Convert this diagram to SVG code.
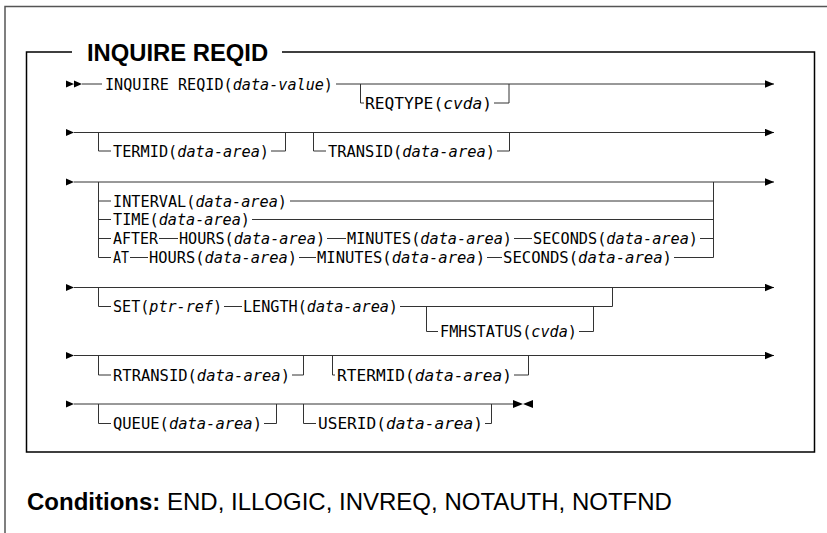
<svg xmlns="http://www.w3.org/2000/svg" width="827" height="533" viewBox="0 0 827 533">
<style>
.frame{fill:none;stroke:#555;stroke-width:1.5}
.box{fill:none;stroke:#000;stroke-width:1.5}
.ln{fill:none;stroke:#333;stroke-width:1}
.t{font-family:"DejaVu Sans Mono","Liberation Mono",monospace;font-size:15px;fill:#000}
.i{font-style:italic}
.title{font-family:"Liberation Sans",Arial,sans-serif;font-weight:bold;font-size:23.8px;fill:#000}
.cond{font-family:"Liberation Sans",Arial,sans-serif;font-size:24px;fill:#000}
.ah{fill:#000}
</style>
<defs>
<marker id="arr" markerWidth="9" markerHeight="8" refX="9" refY="4" orient="auto" markerUnits="userSpaceOnUse">
<path d="M0,0.3 L9,4 L0,7.7 Z" fill="#000"/>
</marker>
</defs>
<rect width="827" height="533" fill="#fff"/>
<path class="frame" d="M5,533 V6.5 H827"/>
<path class="box" d="M72,52 H26.5 V452 H814.5 V52 H282"/>
<text class="title" x="87" y="61">INQUIRE REQID</text>

<g id="connectors">
<!-- row 1 -->
<path class="ah" d="M66,80.5 L74,84 L66,87.5 Z M74,80.5 L82,84 L74,87.5 Z"/>
<path class="ln" d="M82,84 H102"/>
<path class="ln" d="M336,84 H774" marker-end="url(#arr)"/>
<path class="ln" d="M360.5,84 V103 H364"/>
<path class="ln" d="M494,103 H509 V84"/>
<!-- row 2 -->
<path class="ah" d="M66,129 L74,132.5 L66,136 Z"/>
<path class="ln" d="M74,132.5 H774" marker-end="url(#arr)"/>
<path class="ln" d="M98.5,132.5 V151 H111"/>
<path class="ln" d="M271,151 H285.5 V132.5"/>
<path class="ln" d="M313.5,132.5 V151 H326"/>
<path class="ln" d="M497,151 H509.5 V132.5"/>
<!-- row 3 -->
<path class="ah" d="M66,178.5 L74,182 L66,185.5 Z"/>
<path class="ln" d="M74,182 H774" marker-end="url(#arr)"/>
<path class="ln" d="M98.5,182 V257.5 H111"/>
<path class="ln" d="M98.5,201 H111 M98.5,219.5 H111 M98.5,238.5 H111"/>
<path class="ln" d="M713.5,182 V257.5"/>
<path class="ln" d="M290,201 H713.5"/>
<path class="ln" d="M252,219.5 H713.5"/>
<path class="ln" d="M159,238.5 H178 M327,238.5 H346 M514,238.5 H532 M700,238.5 H713.5"/>
<path class="ln" d="M130,257.5 H148 M299,257.5 H316 M487,257.5 H502 M674,257.5 H713.5"/>
<!-- row 4 -->
<path class="ah" d="M66,284 L74,287.5 L66,291 Z"/>
<path class="ln" d="M74,287.5 H774" marker-end="url(#arr)"/>
<path class="ln" d="M98.5,287.5 V306.5 H111"/>
<path class="ln" d="M224,306.5 H242"/>
<path class="ln" d="M400,306.5 H612.5 V287.5"/>
<path class="ln" d="M426.5,306.5 V331.5 H438"/>
<path class="ln" d="M579,331.5 H593.5 V306.5"/>
<!-- row 5 -->
<path class="ah" d="M66,352 L74,355.5 L66,359 Z"/>
<path class="ln" d="M74,355.5 H774" marker-end="url(#arr)"/>
<path class="ln" d="M98.5,355.5 V375 H111"/>
<path class="ln" d="M292,375 H303.5 V355.5"/>
<path class="ln" d="M332.5,355.5 V375 H335"/>
<path class="ln" d="M514,375 H528.5 V355.5"/>
<!-- row 6 -->
<path class="ah" d="M66,400.5 L74,404 L66,407.5 Z"/>
<path class="ln" d="M74,404 H513"/>
<path class="ah" d="M513,400 L523,404 L513,408 Z M533,400 L523,404 L533,408 Z"/>
<path class="ln" d="M98.5,404 V423.5 H111"/>
<path class="ln" d="M264,423.5 H276.5 V404"/>
<path class="ln" d="M303.5,404 V423.5 H316"/>
<path class="ln" d="M485,423.5 H491.5 V404"/>
</g>

<g id="n-inquire"><text class="t" x="105" y="89.5" textLength="228" lengthAdjust="spacingAndGlyphs">INQUIRE REQID(<tspan class="i">data-value</tspan>)</text></g>
<g id="n-reqtype"><text class="t" x="365" y="108.5" textLength="127" lengthAdjust="spacingAndGlyphs">REQTYPE(<tspan class="i">cvda</tspan>)</text></g>
<g id="n-termid"><text class="t" x="113" y="156.5" textLength="156" lengthAdjust="spacingAndGlyphs">TERMID(<tspan class="i">data-area</tspan>)</text></g>
<g id="n-transid"><text class="t" x="328" y="156.5" textLength="167" lengthAdjust="spacingAndGlyphs">TRANSID(<tspan class="i">data-area</tspan>)</text></g>
<g id="n-interval"><text class="t" x="113" y="206.5" textLength="174" lengthAdjust="spacingAndGlyphs">INTERVAL(<tspan class="i">data-area</tspan>)</text></g>
<g id="n-time"><text class="t" x="113" y="225" textLength="137" lengthAdjust="spacingAndGlyphs">TIME(<tspan class="i">data-area</tspan>)</text></g>
<g id="n-after">
<text class="t" x="113" y="244" textLength="45" lengthAdjust="spacingAndGlyphs">AFTER</text>
<text class="t" x="179" y="244" textLength="146" lengthAdjust="spacingAndGlyphs">HOURS(<tspan class="i">data-area</tspan>)</text>
<text class="t" x="347" y="244" textLength="165" lengthAdjust="spacingAndGlyphs">MINUTES(<tspan class="i">data-area</tspan>)</text>
<text class="t" x="533" y="244" textLength="165" lengthAdjust="spacingAndGlyphs">SECONDS(<tspan class="i">data-area</tspan>)</text>
</g>
<g id="n-at">
<text class="t" x="113" y="263" textLength="16" lengthAdjust="spacingAndGlyphs">AT</text>
<text class="t" x="149" y="263" textLength="148" lengthAdjust="spacingAndGlyphs">HOURS(<tspan class="i">data-area</tspan>)</text>
<text class="t" x="317" y="263" textLength="168" lengthAdjust="spacingAndGlyphs">MINUTES(<tspan class="i">data-area</tspan>)</text>
<text class="t" x="503" y="263" textLength="169" lengthAdjust="spacingAndGlyphs">SECONDS(<tspan class="i">data-area</tspan>)</text>
</g>
<g id="n-set"><text class="t" x="113" y="312" textLength="109" lengthAdjust="spacingAndGlyphs">SET(<tspan class="i">ptr-ref</tspan>)</text></g>
<g id="n-length"><text class="t" x="243" y="312" textLength="155" lengthAdjust="spacingAndGlyphs">LENGTH(<tspan class="i">data-area</tspan>)</text></g>
<g id="n-fmhstatus"><text class="t" x="440" y="337" textLength="137" lengthAdjust="spacingAndGlyphs">FMHSTATUS(<tspan class="i">cvda</tspan>)</text></g>
<g id="n-rtransid"><text class="t" x="113" y="380.5" textLength="177" lengthAdjust="spacingAndGlyphs">RTRANSID(<tspan class="i">data-area</tspan>)</text></g>
<g id="n-rtermid"><text class="t" x="337" y="380.5" textLength="175" lengthAdjust="spacingAndGlyphs">RTERMID(<tspan class="i">data-area</tspan>)</text></g>
<g id="n-queue"><text class="t" x="113" y="429" textLength="149" lengthAdjust="spacingAndGlyphs">QUEUE(<tspan class="i">data-area</tspan>)</text></g>
<g id="n-userid"><text class="t" x="318" y="429" textLength="165" lengthAdjust="spacingAndGlyphs">USERID(<tspan class="i">data-area</tspan>)</text></g>

<g id="conditions"><text class="cond" x="27" y="510"><tspan font-weight="bold">Conditions:</tspan> END, ILLOGIC, INVREQ, NOTAUTH, NOTFND</text></g>
</svg>
